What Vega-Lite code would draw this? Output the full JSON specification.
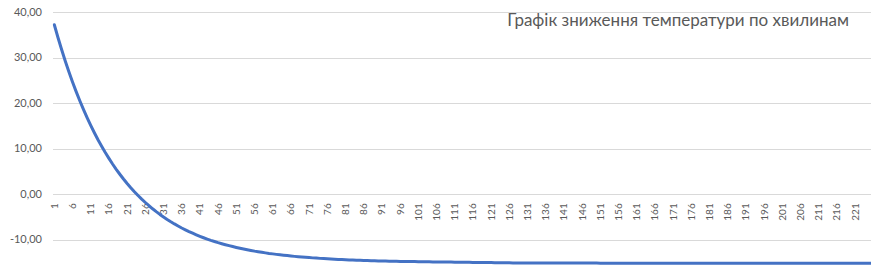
{
  "$schema": "https://vega.github.io/schema/vega-lite/v6.json",
  "width": 818.5,
  "height": 258,
  "autosize": {"type": "none"},
  "padding": {"left": 52.5, "top": 12, "right": 0, "bottom": 0},
  "background": "#ffffff",
  "config": {
    "view": {"stroke": null},
    "font": "Lato",
    "locale": {"number": {"decimal": ",", "thousands": " ", "grouping": [3], "currency": ["", ""], "minus": "-"}}
  },
  "title": {
    "text": "Графік зниження температури по хвилинам",
    "anchor": "end",
    "frame": "group",
    "orient": "top",
    "offset": -20.5,
    "baseline": "alphabetic",
    "dx": -22,
    "dy": 16,
    "fontSize": 17,
    "fontWeight": "normal",
    "color": "#595959",
    "font": "Lato"
  },
  "data": {
    "values": [
      {"t": 1, "temp": 37.20}, {"t": 2, "temp": 34.41}, {"t": 3, "temp": 31.76}, {"t": 4, "temp": 29.26}, {"t": 5, "temp": 26.89},
      {"t": 6, "temp": 24.65}, {"t": 7, "temp": 22.53}, {"t": 8, "temp": 20.52}, {"t": 9, "temp": 18.62}, {"t": 10, "temp": 16.82},
      {"t": 11, "temp": 15.12}, {"t": 12, "temp": 13.51}, {"t": 13, "temp": 11.98}, {"t": 14, "temp": 10.54}, {"t": 15, "temp": 9.17},
      {"t": 16, "temp": 7.88}, {"t": 17, "temp": 6.65}, {"t": 18, "temp": 5.49}, {"t": 19, "temp": 4.40}, {"t": 20, "temp": 3.36},
      {"t": 21, "temp": 2.38}, {"t": 22, "temp": 1.45}, {"t": 23, "temp": 0.57}, {"t": 24, "temp": -0.27}, {"t": 25, "temp": -1.06},
      {"t": 26, "temp": -1.80}, {"t": 27, "temp": -2.51}, {"t": 28, "temp": -3.18}, {"t": 29, "temp": -3.81}, {"t": 30, "temp": -4.41},
      {"t": 31, "temp": -4.97}, {"t": 32, "temp": -5.51}, {"t": 33, "temp": -6.02}, {"t": 34, "temp": -6.50}, {"t": 35, "temp": -6.95},
      {"t": 36, "temp": -7.39}, {"t": 37, "temp": -7.79}, {"t": 38, "temp": -8.18}, {"t": 39, "temp": -8.54}, {"t": 40, "temp": -8.89},
      {"t": 41, "temp": -9.22}, {"t": 42, "temp": -9.53}, {"t": 43, "temp": -9.82}, {"t": 44, "temp": -10.10}, {"t": 45, "temp": -10.36},
      {"t": 46, "temp": -10.61}, {"t": 47, "temp": -10.84}, {"t": 48, "temp": -11.06}, {"t": 49, "temp": -11.27}, {"t": 50, "temp": -11.47},
      {"t": 51, "temp": -11.66}, {"t": 52, "temp": -11.84}, {"t": 53, "temp": -12.01}, {"t": 54, "temp": -12.17}, {"t": 55, "temp": -12.32},
      {"t": 56, "temp": -12.47}, {"t": 57, "temp": -12.60}, {"t": 58, "temp": -12.73}, {"t": 59, "temp": -12.85}, {"t": 60, "temp": -12.97},
      {"t": 61, "temp": -13.07}, {"t": 62, "temp": -13.18}, {"t": 63, "temp": -13.28}, {"t": 64, "temp": -13.37}, {"t": 65, "temp": -13.45},
      {"t": 66, "temp": -13.54}, {"t": 67, "temp": -13.62}, {"t": 68, "temp": -13.69}, {"t": 69, "temp": -13.76}, {"t": 70, "temp": -13.83},
      {"t": 71, "temp": -13.89}, {"t": 72, "temp": -13.95}, {"t": 73, "temp": -14.00}, {"t": 74, "temp": -14.06}, {"t": 75, "temp": -14.11},
      {"t": 76, "temp": -14.16}, {"t": 77, "temp": -14.20}, {"t": 78, "temp": -14.24}, {"t": 79, "temp": -14.28}, {"t": 80, "temp": -14.32},
      {"t": 81, "temp": -14.36}, {"t": 82, "temp": -14.39}, {"t": 83, "temp": -14.43}, {"t": 84, "temp": -14.46}, {"t": 85, "temp": -14.49},
      {"t": 86, "temp": -14.51}, {"t": 87, "temp": -14.54}, {"t": 88, "temp": -14.56}, {"t": 89, "temp": -14.59}, {"t": 90, "temp": -14.61},
      {"t": 91, "temp": -14.63}, {"t": 92, "temp": -14.65}, {"t": 93, "temp": -14.67}, {"t": 94, "temp": -14.69}, {"t": 95, "temp": -14.70},
      {"t": 96, "temp": -14.72}, {"t": 97, "temp": -14.73}, {"t": 98, "temp": -14.75}, {"t": 99, "temp": -14.76}, {"t": 100, "temp": -14.77},
      {"t": 101, "temp": -14.79}, {"t": 102, "temp": -14.80}, {"t": 103, "temp": -14.81}, {"t": 104, "temp": -14.82}, {"t": 105, "temp": -14.83},
      {"t": 106, "temp": -14.84}, {"t": 107, "temp": -14.85}, {"t": 108, "temp": -14.86}, {"t": 109, "temp": -14.87}, {"t": 110, "temp": -14.88},
      {"t": 111, "temp": -14.89}, {"t": 112, "temp": -14.90}, {"t": 113, "temp": -14.91}, {"t": 114, "temp": -14.92}, {"t": 115, "temp": -14.93},
      {"t": 116, "temp": -14.94}, {"t": 117, "temp": -14.95}, {"t": 118, "temp": -14.96}, {"t": 119, "temp": -14.97}, {"t": 120, "temp": -14.98},
      {"t": 121, "temp": -14.99}, {"t": 122, "temp": -15.00}, {"t": 123, "temp": -15.01}, {"t": 124, "temp": -15.02}, {"t": 125, "temp": -15.03},
      {"t": 126, "temp": -15.04}, {"t": 127, "temp": -15.05}, {"t": 128, "temp": -15.06}, {"t": 129, "temp": -15.07}, {"t": 130, "temp": -15.08},
      {"t": 131, "temp": -15.09}, {"t": 132, "temp": -15.10}, {"t": 133, "temp": -15.10}, {"t": 134, "temp": -15.10}, {"t": 135, "temp": -15.10},
      {"t": 136, "temp": -15.10}, {"t": 137, "temp": -15.10}, {"t": 138, "temp": -15.10}, {"t": 139, "temp": -15.10}, {"t": 140, "temp": -15.10},
      {"t": 141, "temp": -15.10}, {"t": 142, "temp": -15.10}, {"t": 143, "temp": -15.10}, {"t": 144, "temp": -15.10}, {"t": 145, "temp": -15.10},
      {"t": 146, "temp": -15.10}, {"t": 147, "temp": -15.10}, {"t": 148, "temp": -15.10}, {"t": 149, "temp": -15.10}, {"t": 150, "temp": -15.10},
      {"t": 151, "temp": -15.11}, {"t": 152, "temp": -15.11}, {"t": 153, "temp": -15.11}, {"t": 154, "temp": -15.11}, {"t": 155, "temp": -15.11},
      {"t": 156, "temp": -15.11}, {"t": 157, "temp": -15.11}, {"t": 158, "temp": -15.11}, {"t": 159, "temp": -15.11}, {"t": 160, "temp": -15.11},
      {"t": 161, "temp": -15.11}, {"t": 162, "temp": -15.11}, {"t": 163, "temp": -15.11}, {"t": 164, "temp": -15.11}, {"t": 165, "temp": -15.11},
      {"t": 166, "temp": -15.11}, {"t": 167, "temp": -15.11}, {"t": 168, "temp": -15.11}, {"t": 169, "temp": -15.11}, {"t": 170, "temp": -15.11},
      {"t": 171, "temp": -15.11}, {"t": 172, "temp": -15.11}, {"t": 173, "temp": -15.11}, {"t": 174, "temp": -15.11}, {"t": 175, "temp": -15.11},
      {"t": 176, "temp": -15.12}, {"t": 177, "temp": -15.12}, {"t": 178, "temp": -15.12}, {"t": 179, "temp": -15.12}, {"t": 180, "temp": -15.12},
      {"t": 181, "temp": -15.12}, {"t": 182, "temp": -15.12}, {"t": 183, "temp": -15.12}, {"t": 184, "temp": -15.12}, {"t": 185, "temp": -15.12},
      {"t": 186, "temp": -15.12}, {"t": 187, "temp": -15.12}, {"t": 188, "temp": -15.12}, {"t": 189, "temp": -15.12}, {"t": 190, "temp": -15.12},
      {"t": 191, "temp": -15.12}, {"t": 192, "temp": -15.12}, {"t": 193, "temp": -15.12}, {"t": 194, "temp": -15.12}, {"t": 195, "temp": -15.12},
      {"t": 196, "temp": -15.12}, {"t": 197, "temp": -15.12}, {"t": 198, "temp": -15.12}, {"t": 199, "temp": -15.12}, {"t": 200, "temp": -15.12},
      {"t": 201, "temp": -15.12}, {"t": 202, "temp": -15.12}, {"t": 203, "temp": -15.12}, {"t": 204, "temp": -15.12}, {"t": 205, "temp": -15.12},
      {"t": 206, "temp": -15.12}, {"t": 207, "temp": -15.12}, {"t": 208, "temp": -15.12}, {"t": 209, "temp": -15.12}, {"t": 210, "temp": -15.12},
      {"t": 211, "temp": -15.12}, {"t": 212, "temp": -15.12}, {"t": 213, "temp": -15.12}, {"t": 214, "temp": -15.12}, {"t": 215, "temp": -15.12},
      {"t": 216, "temp": -15.12}, {"t": 217, "temp": -15.12}, {"t": 218, "temp": -15.12}, {"t": 219, "temp": -15.12}, {"t": 220, "temp": -15.12},
      {"t": 221, "temp": -15.12}, {"t": 222, "temp": -15.12}, {"t": 223, "temp": -15.12}, {"t": 224, "temp": -15.12}, {"t": 225, "temp": -15.12},
      {"t": 226, "temp": -15.12}
    ]
  },
  "mark": {"type": "line", "color": "#4472C4", "strokeWidth": 3, "clip": true, "strokeJoin": "round", "strokeCap": "round"},
  "encoding": {
    "x": {
      "field": "t",
      "type": "quantitative",
      "scale": {"domain": [0.5, 225.36], "nice": false, "zero": false},
      "axis": {
        "values": [1, 6, 11, 16, 21, 26, 31, 36, 41, 46, 51, 56, 61, 66, 71, 76, 81, 86, 91, 96, 101, 106, 111, 116, 121, 126, 131, 136, 141, 146, 151, 156, 161, 166, 171, 176, 181, 186, 191, 196, 201, 206, 211, 216, 221, 226],
        "labelAngle": -90,
        "offset": -75.7,
        "domain": false,
        "ticks": false,
        "grid": false,
        "labelPadding": 8.5,
        "labelFontSize": 10,
        "labelColor": "#595959",
        "labelOverlap": false,
        "labelBound": false,
        "labelFlush": false,
        "format": "d",
        "title": null
      }
    },
    "y": {
      "field": "temp",
      "type": "quantitative",
      "scale": {"domain": [-16.61, 40], "nice": false, "zero": false},
      "axis": {
        "values": [-10, 0, 10, 20, 30, 40],
        "format": ".2f",
        "domain": false,
        "ticks": false,
        "grid": true,
        "gridColor": "#d9d9d9",
        "gridWidth": 1,
        "labelPadding": 11,
        "labelFontSize": 11,
        "labelColor": "#595959",
        "title": null
      }
    }
  }
}
